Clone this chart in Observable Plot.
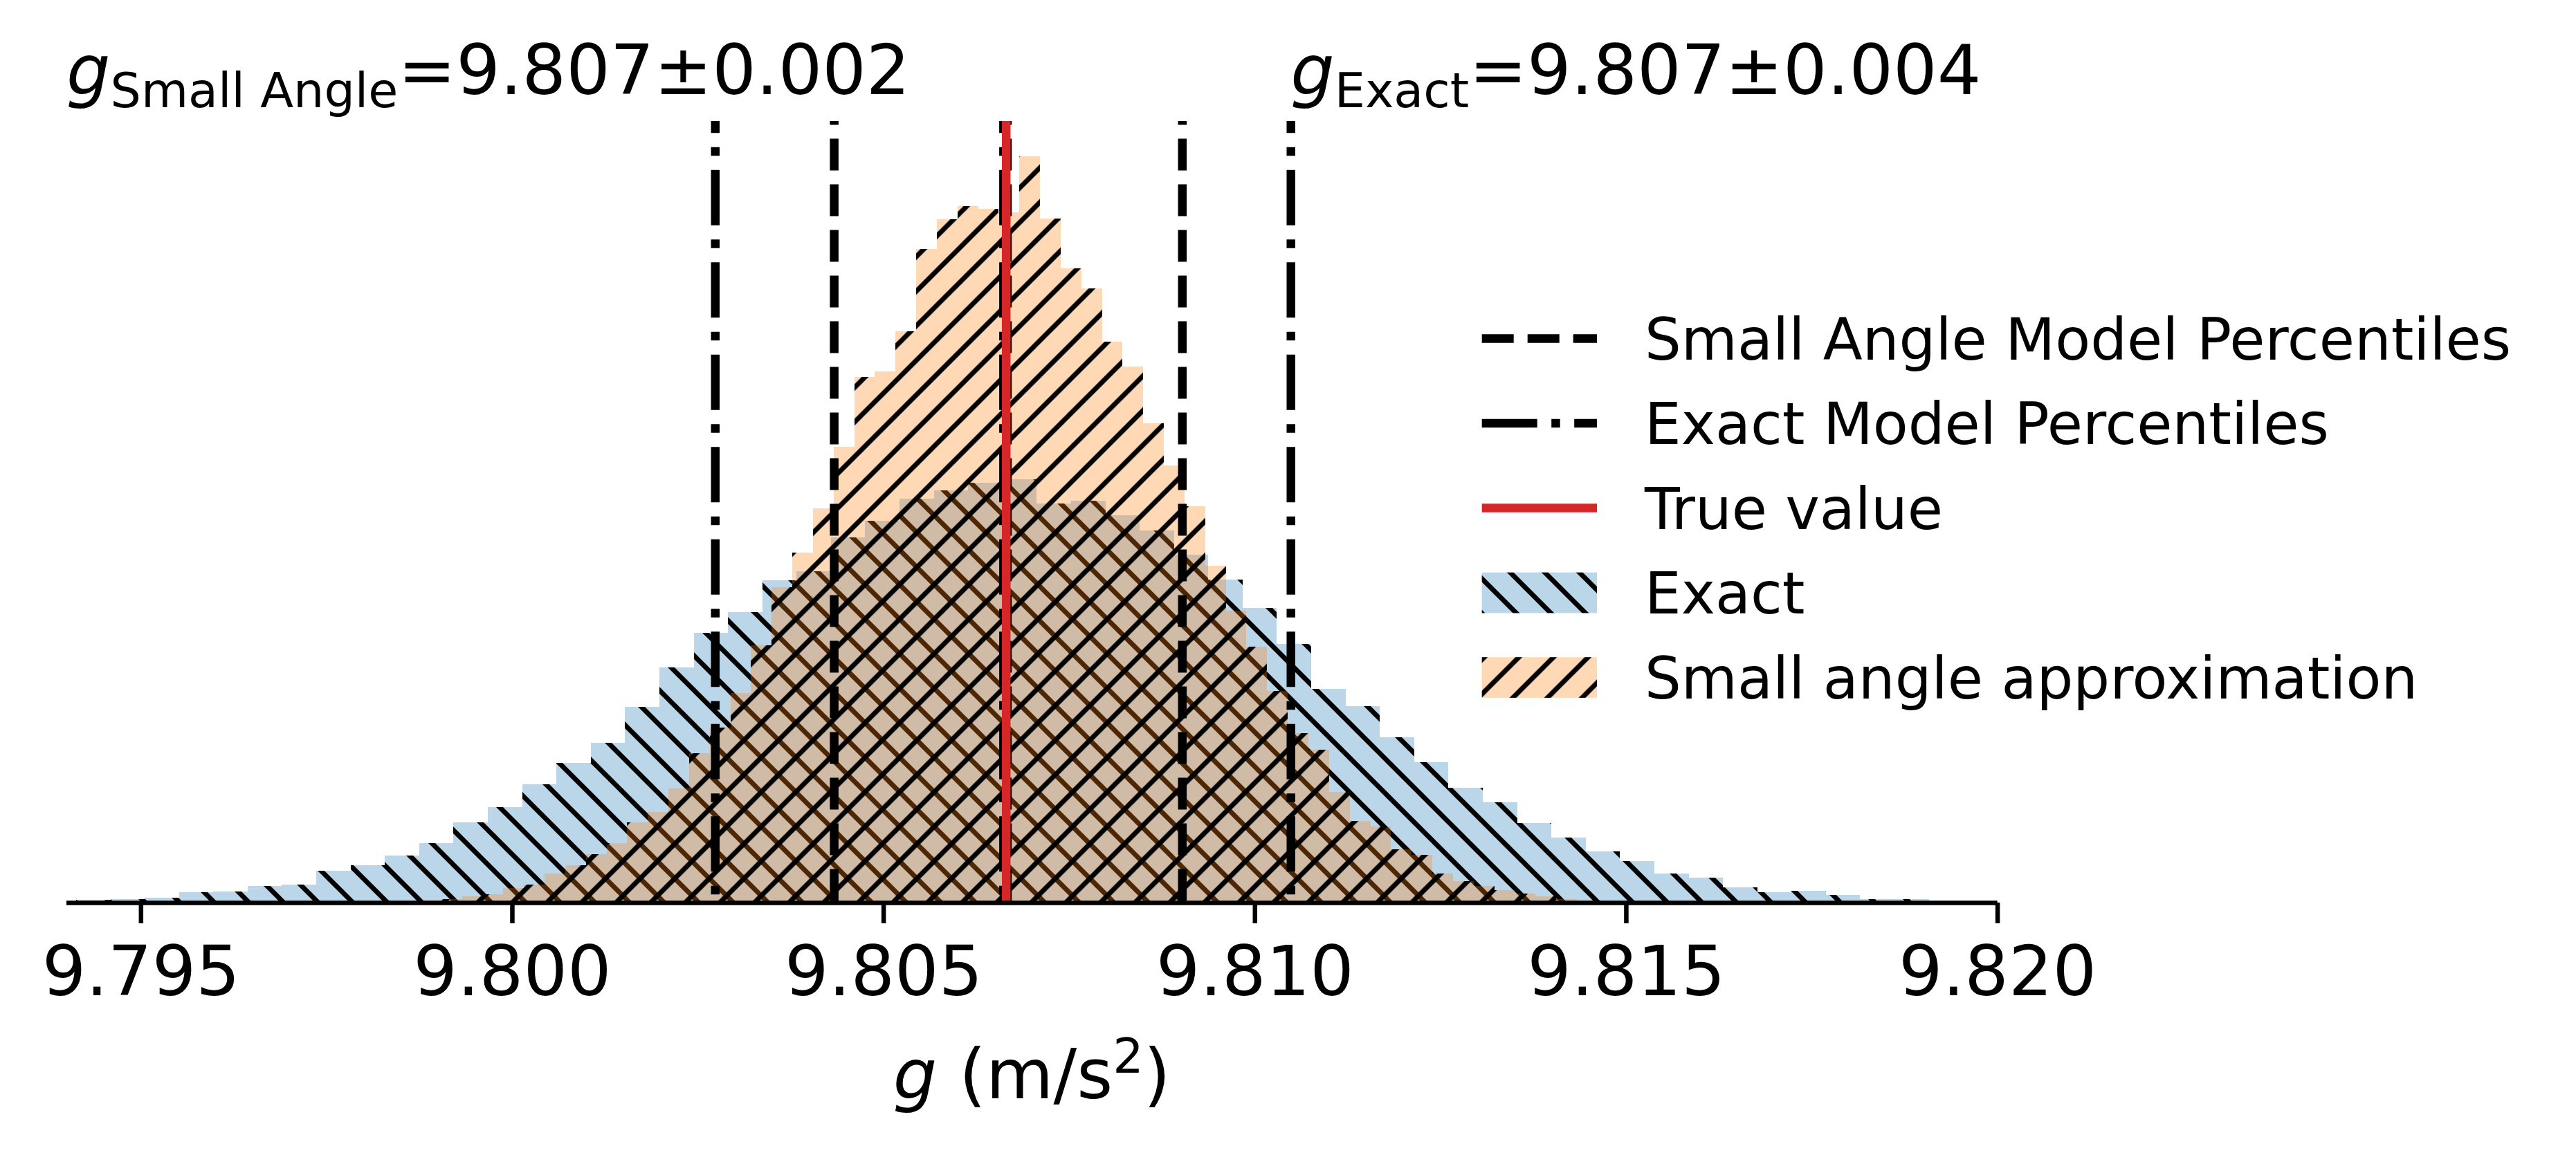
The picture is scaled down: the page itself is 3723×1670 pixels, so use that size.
<!DOCTYPE html>
<html><head><meta charset="utf-8">
<script src="https://cdn.jsdelivr.net/npm/d3@7"></script>
<script src="https://cdn.jsdelivr.net/npm/@observablehq/plot@0.6"></script>
<style>
html,body{margin:0;padding:0;background:#fff;overflow:hidden}
#chart svg{display:block;max-width:none}
g[aria-label^="x-axis"] line, g[aria-label="x-axis tick"] path{stroke-width:6.5px}
</style></head><body><div id="chart"></div>
<script>
// ---- data ----
const exactStart = 9.79413, exactBinWidth = 0.000462;
const exactCounts = [4,5,7,15,16,24,26,46,54,68,86,116,138,171,202,231,283,340,390,420,466,479,528,552,584,596,607,612,577,581,560,538,503,467,426,374,309,284,239,203,166,145,115,94,74,60,42,36,22,15,17,11,5,5];
const smallStart = 9.79877, smallBinWidth = 0.000278;
const smallCounts = [3,5,9,12,21,26,42,54,70,86,116,131,165,216,253,303,372,456,506,570,659,760,768,826,945,988,1007,1003,998,1079,989,917,888,811,775,693,632,573,487,422,370,306,245,221,160,118,110,77,69,42,31,24,18,13,9,5,2];
const exactPercentiles = [9.802733, 9.806614, 9.810484];
const smallPercentiles = [9.804334, 9.806667, 9.809022];
const trueValue = [9.80665];
const xTicks = [9.795, 9.800, 9.805, 9.810, 9.815, 9.820];
const xDomain = [9.794, 9.820];
const annotationSubs = ["Small Angle", "Exact"];
const annotationValues = ["=9.807±0.002", "=9.807±0.004"];
const legendLabels = ["Small Angle Model Percentiles", "Exact Model Percentiles", "True value", "Exact", "Small angle approximation"];

const exactBins = exactCounts.map((c, i) => ({x1: exactStart + i * exactBinWidth, x2: exactStart + (i + 1) * exactBinWidth, y: c}));
const smallBins = smallCounts.map((c, i) => ({x1: smallStart + i * smallBinWidth, x2: smallStart + (i + 1) * smallBinWidth, y: c}));

const BLUE = "#1f77b4", ORANGE = "#ff7f0e", RED = "#d62728";
const LW = 12.5;
const DASH = "46,20", DASHDOT = "80,20.5,12.5,20.5";
const FS = 100, FS_SMALL = 70, FS_LEGEND = 83.3;

const plot = Plot.plot({
  width: 3723, height: 1670,
  marginLeft: 96, marginRight: 836.4, marginTop: 175, marginBottom: 365,
  style: {fontFamily: "DejaVu Sans", fontSize: FS + "px", background: "white", overflow: "visible", color: "black"},
  x: {domain: xDomain, ticks: xTicks, tickFormat: ".3f", tickSize: 30, tickPadding: 32, label: null},
  y: {domain: [0, 1130], axis: null},
  marks: [
    Plot.rect(exactBins, {x1: "x1", x2: "x2", y1: 0, y2: "y", fill: BLUE, fillOpacity: 0.3, shapeRendering: "crispEdges"}),
    Plot.rect(exactBins, {x1: "x1", x2: "x2", y1: 0, y2: "y", fill: "url(#hatchBack)", shapeRendering: "crispEdges"}),
    Plot.rect(smallBins, {x1: "x1", x2: "x2", y1: 0, y2: "y", fill: ORANGE, fillOpacity: 0.3, shapeRendering: "crispEdges"}),
    Plot.rect(smallBins, {x1: "x1", x2: "x2", y1: 0, y2: "y", fill: "url(#hatchFwd)", shapeRendering: "crispEdges"}),
    Plot.ruleX(smallPercentiles, {x: d => d, y1: 0, y2: 1130, stroke: "black", strokeWidth: LW, strokeDasharray: DASH, strokeDashoffset: -2.5}),
    Plot.ruleX(exactPercentiles, {x: d => d, y1: 0, y2: 1130, stroke: "black", strokeWidth: LW, strokeDasharray: DASHDOT, strokeDashoffset: -44.8}),
    Plot.ruleX(trueValue, {x: d => d, y1: 0, y2: 1130, stroke: RED, strokeWidth: LW}),
    Plot.ruleY([0], {x1: xDomain[0], x2: xDomain[1], stroke: "black", strokeWidth: 6.5})
  ]
});
document.getElementById("chart").appendChild(plot);

const svg = d3.select(plot);
const xs = plot.scale("x");
const defs = svg.insert("defs", ":first-child");
const S = 50;
function hatch(id, d, px) {
  defs.append("pattern").attr("id", id).attr("patternUnits", "userSpaceOnUse")
    .attr("width", S).attr("height", S).attr("x", px).attr("y", 0)
    .append("path").attr("d", d).attr("stroke", "black").attr("stroke-width", 7).attr("fill", "none");
}
hatch("hatchBack", `M0,0L${S},${S}M${-S/2},${S/2}L${S/2},${S*1.5}M${S/2},${-S/2}L${S*1.5},${S/2}`, 5);
hatch("hatchFwd", `M0,${S}L${S},0M${-S/2},${S/2}L${S/2},${-S/2}M${S/2},${S*1.5}L${S*1.5},${S/2}`, 45.4);

// annotations above the axes
const annX = [xs.apply(xDomain[0]), xs.apply(exactPercentiles[2])];
annX.forEach((x, i) => {
  const t = svg.append("text").attr("x", x).attr("y", 136).attr("font-size", FS)
    .attr("text-anchor", "start").attr("fill", "black");
  t.append("tspan").attr("font-style", "italic").text("g");
  t.append("tspan").attr("font-size", FS_SMALL).attr("dy", 19).text(annotationSubs[i]);
  t.append("tspan").attr("font-size", FS).attr("dy", -19).text(annotationValues[i]);
});

// x-axis label
const xl = svg.append("text").attr("x", (xs.apply(xDomain[0]) + xs.apply(xDomain[1])) / 2).attr("y", 1588)
  .attr("text-anchor", "middle").attr("font-size", FS).attr("fill", "black");
xl.append("tspan").attr("font-style", "italic").text("g");
xl.append("tspan").text(" (m/s");
xl.append("tspan").attr("font-size", FS_SMALL).attr("dy", -37).text("2");
xl.append("tspan").attr("font-size", FS).attr("dy", 37).text(")");

// legend
const lg = svg.append("g").attr("text-anchor", "start");
const hx0 = 2141.7, hx1 = 2308, tx = 2377, rows = [489.5, 612, 734.5, 857, 979.5];
const lineStyles = [{stroke: "black", dash: DASH}, {stroke: "black", dash: DASHDOT}, {stroke: RED, dash: null}];
lineStyles.forEach((st, i) => {
  const l = lg.append("line").attr("x1", hx0).attr("x2", hx1).attr("y1", rows[i]).attr("y2", rows[i])
    .attr("stroke", st.stroke).attr("stroke-width", LW);
  if (st.dash) l.attr("stroke-dasharray", st.dash);
});
[[BLUE, "url(#hatchBack)"], [ORANGE, "url(#hatchFwd)"]].forEach(([c, h], k) => {
  const cy = rows[3 + k];
  lg.append("rect").attr("x", hx0).attr("y", cy - 29.3).attr("width", hx1 - hx0).attr("height", 58.7).attr("fill", c).attr("fill-opacity", 0.3);
  lg.append("rect").attr("x", hx0).attr("y", cy - 29.3).attr("width", hx1 - hx0).attr("height", 58.7).attr("fill", h);
});
legendLabels.forEach((s, i) => {
  lg.append("text").attr("x", tx).attr("y", rows[i] + 30.4).attr("font-size", FS_LEGEND)
    .attr("text-anchor", "start").attr("fill", "black").text(s);
});
</script></body></html>
